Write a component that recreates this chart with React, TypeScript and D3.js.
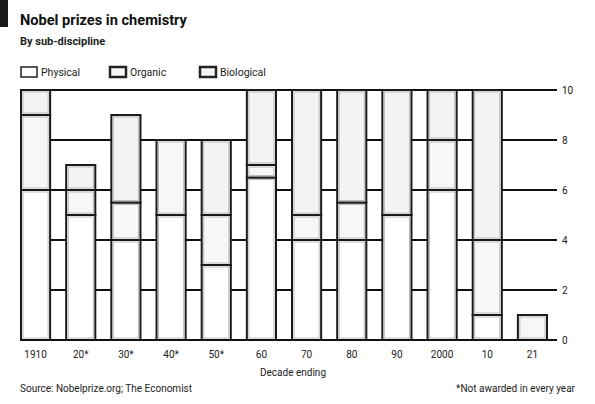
import React from "react";
import * as d3 from "d3";

const categories = ["1910", "20*", "30*", "40*", "50*", "60", "70", "80", "90", "2000", "10", "21"];
const physical = [6, 5, 4, 5, 3, 6.5, 4, 4, 5, 6, 1, 0];
const organic = [3, 1, 1.5, 3, 2, 0.5, 1, 1.5, 0, 2, 3, 1];
const biological = [1, 1, 3.5, 0, 3, 3, 5, 4.5, 5, 2, 6, 0];
const seriesNames = ["Physical", "Organic", "Biological"];
const yTicks = [0, 2, 4, 6, 8, 10];

const W = 595;
const H = 404;
const fills: Record<string, string> = { Physical: "#ffffff", Organic: "#f7f7f7", Biological: "#f3f3f3" };
const font = "Roboto, 'Liberation Sans', sans-serif";

export default function App() {
  const rows = categories.map((c, i) => ({
    cat: c,
    Physical: physical[i],
    Organic: organic[i],
    Biological: biological[i],
  }));
  const stack = d3.stack<any>().keys(seriesNames)(rows);

  const x = d3.scaleBand<string>().domain(categories).range([21, 547]).paddingInner(0.355).paddingOuter(0);
  const y = d3.scaleLinear().domain([0, 10]).range([340, 90]);

  const gridX0 = 20;
  const gridX1 = 557;

  return (
    <svg width={W} height={H} style={{ position: "absolute", left: 0, top: 0, background: "#fff" }} fontFamily={font}>
      <rect x={0} y={0} width={8} height={27} fill="#1a1a1a" />
      <text x={20} y={25} fontSize={14.6} fontWeight="bold" fill="#111">Nobel prizes in chemistry</text>
      <text x={20} y={45} fontSize={11} fontWeight="bold" fill="#222">By sub-discipline</text>

      {seriesNames.map((s, i) => {
        const lx = [21, 110, 200][i];
        return (
          <g key={s}>
            <rect x={lx} y={67} width={16} height={10} fill={fills[s]} stroke="#222" strokeWidth={i === 0 ? 1.5 : 2.5} />
            <text x={lx + 20} y={76} fontSize={10.5} fill="#222">{s}</text>
          </g>
        );
      })}

      {yTicks.map((t) => (
        <g key={t}>
          <line x1={gridX0} x2={gridX1} y1={y(t)} y2={y(t)} stroke="#111" strokeWidth={2} />
          <text x={562} y={y(t)} dy="0.35em" fontSize={10} fill="#222">{t}</text>
        </g>
      ))}

      {stack.map((layer) => (
        <g key={layer.key}>
          {layer.map((d, i) => {
            const h = y(d[0]) - y(d[1]);
            if (h <= 0) return null;
            return (
              <g key={i}>
                <rect
                  x={x(categories[i])!}
                  y={y(d[1])}
                  width={x.bandwidth()}
                  height={h}
                  fill={fills[layer.key]}
                  stroke="#1a1a1a"
                  strokeWidth={2}
                />
                <rect
                  x={x(categories[i])! + 2}
                  y={y(d[1]) + 2}
                  width={x.bandwidth() - 4}
                  height={Math.max(0, h - 4)}
                  fill="none"
                  stroke="#bbb"
                  strokeWidth={1}
                />
              </g>
            );
          })}
        </g>
      ))}

      <line x1={gridX0} x2={gridX1} y1={y(0)} y2={y(0)} stroke="#111" strokeWidth={2} />

      {categories.map((c) => (
        <text key={c} x={x(c)! + x.bandwidth() / 2} y={358} textAnchor="middle" fontSize={10} fill="#222">{c}</text>
      ))}
      <text x={293} y={376} textAnchor="middle" fontSize={10} fill="#222">Decade ending</text>

      <text x={20} y={392} fontSize={10} fill="#222">Source: Nobelprize.org; The Economist</text>
      <text x={575} y={392} textAnchor="end" fontSize={10} fill="#222">*Not awarded in every year</text>
    </svg>
  );
}
